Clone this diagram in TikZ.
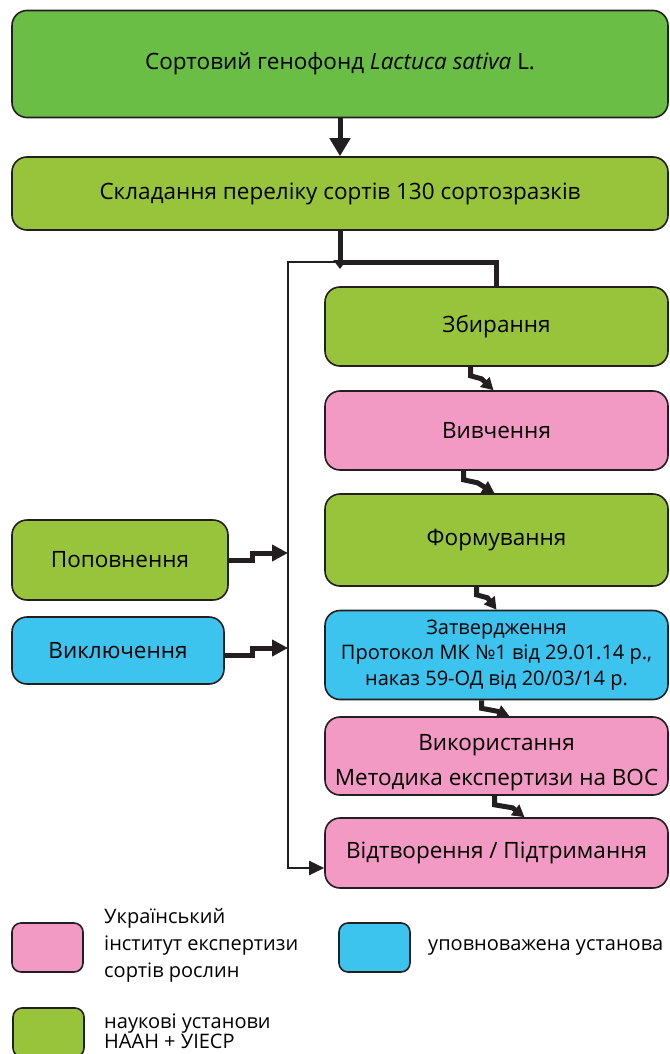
\documentclass[tikz,border=0pt]{standalone}
\usepackage{fontspec}
\setmainfont{Open Sans}
\usetikzlibrary{calc, arrows.meta}

\definecolor{grassgreen}{HTML}{6ABD45}
\definecolor{limegreen}{HTML}{98C43C}
\definecolor{rosepink}{HTML}{F29AC3}
\definecolor{skyblue}{HTML}{3CC3EE}
\definecolor{inkline}{HTML}{231F20}

\begin{document}
\begin{tikzpicture}[x=1pt, y=-1pt]

            \tikzstyle{box} = [draw=inkline, line width=1.6pt, rounded corners=15pt, align=center, inner sep=0, font=\fontsize{22.5}{27}\selectfont];
            \tikzstyle{legendbox} = [draw=inkline, line width=1.6pt, rounded corners=9pt, minimum width=71pt, minimum height=49pt, inner sep=0];
            \tikzstyle{legendtext} = [anchor=west, align=left, inner sep=0, font=\fontsize{20}{27}\selectfont];
            \tikzstyle{bigarrow} = [draw=inkline, line width=5pt, -{Triangle[length=18pt, width=20pt]}];
            \tikzstyle{thickline} = [draw=inkline, line width=5pt];
            \tikzstyle{steparrow} = [draw=inkline, line width=5pt, -{Triangle[length=12pt, width=13pt]}];
            \tikzstyle{thinarrow} = [draw=inkline, line width=2pt, -{Triangle[length=15pt, width=14pt]}];

            \useasboundingbox (0,0) rectangle (669,1054);

            % main column
            \node[box, fill=grassgreen, minimum width=656pt, minimum height=107pt] (gen) at (340,64) {Сортовий генофонд \textit{Lactuca sativa} L.};
            \node[box, fill=limegreen, minimum width=656pt, minimum height=73pt] (list) at (340,193.5) {Складання переліку сортів 130 сортозразків};

            \node[box, fill=limegreen, minimum width=343pt, minimum height=79pt] (zbyr) at (496.5,326.5) {Збирання};
            \node[box, fill=rosepink, minimum width=343pt, minimum height=79pt] (vyvch) at (496.5,430.5) {Вивчення};
            \node[box, fill=limegreen, minimum width=343pt, minimum height=92pt] (form) at (496.5,540) {Формування};
            \node[box, fill=skyblue, minimum width=343pt, minimum height=89pt, font=\fontsize{20}{25.5}\selectfont] (zatv) at (496.5,655) {Затвердження\\Протокол МК №1 від 29.01.14 р.,\\наказ 59-ОД від 20/03/14 р.};
            \node[box, fill=rosepink, minimum width=343pt, minimum height=78pt, font=\fontsize{22.5}{35}\selectfont] (vykor) at (496.5,756) {\rule{0pt}{30pt}Використання\\Методика експертизи на ВОС};
            \node[box, fill=rosepink, minimum width=343pt, minimum height=70pt] (vidtv) at (496.5,853) {Відтворення / Підтримання};

            % side boxes
            \node[box, fill=limegreen, minimum width=216pt, minimum height=80pt] (popov) at (120,560) {Поповнення};
            \node[box, fill=skyblue, minimum width=212pt, minimum height=67pt] (vykl) at (118,650.5) {Виключення};

            % legend
            \node[legendbox, fill=rosepink] (lgpink) at (47.5,947.5) {};
            \node[legendtext] (txpink) at (104,945) {Український\\інститут експертизи\\сортів рослин};
            \node[legendbox, fill=skyblue] (lgblue) at (374.5,947.5) {};
            \node[legendtext] (txblue) at (428,947.5) {уповноважена установа};
            \node[legendbox, fill=limegreen] (lggreen) at (48.5,1032.5) {};
            \node[legendtext, font=\fontsize{20}{20}\selectfont] (txgreen) at (104,1031) {наукові установи\\НААН + УIЕСР};

            % connectors
            \coordinate (split) at (340,262);
            \coordinate (loop) at (288,262);
            \coordinate (inA) at (288,553);
            \coordinate (inB) at (288,648);

            \draw[bigarrow] (gen.south) -- (list.north);
            \draw[thinarrow] (split) -- (loop) |- ($(vidtv.west)+(0,15)$);
            \draw[thickline] (split) -| (zbyr.north);
            \draw[draw=inkline, line width=5pt, -{Triangle[length=9pt, width=13pt]}] (list.south) -- ($(split)+(0,7)$);

            \draw[steparrow] ([xshift=-26pt]zbyr.south) -- ++(0,9) -- ++(11,3) -- ([xshift=-3pt]vyvch.north);
            \draw[steparrow] ([xshift=-33pt]vyvch.south) -- ++(0,9) -- ++(14,3) -- ([xshift=-2pt]form.north);
            \draw[steparrow] ([xshift=-20pt]form.south) -- ++(0,8) -- ++(11,3) -- ([xshift=0pt]zatv.north);
            \draw[steparrow] ([xshift=-15pt]zatv.south) -- ++(0,8) -- ++(16,3) -- ([xshift=13pt]vykor.north);
            \draw[steparrow] ([xshift=-2pt]vykor.south) -- ++(0,9) -- ++(18,3) -- ([xshift=28pt]vidtv.north);

            \draw[steparrow, -{Triangle[length=16pt, width=16pt]}] (popov.east) -- ++(24,0) |- (inA);
            \draw[steparrow, -{Triangle[length=16pt, width=16pt]}] ($(vykl.east)+(0,5)$) -- ++(28,0) |- (inB);

        \end{tikzpicture}
\end{document}
